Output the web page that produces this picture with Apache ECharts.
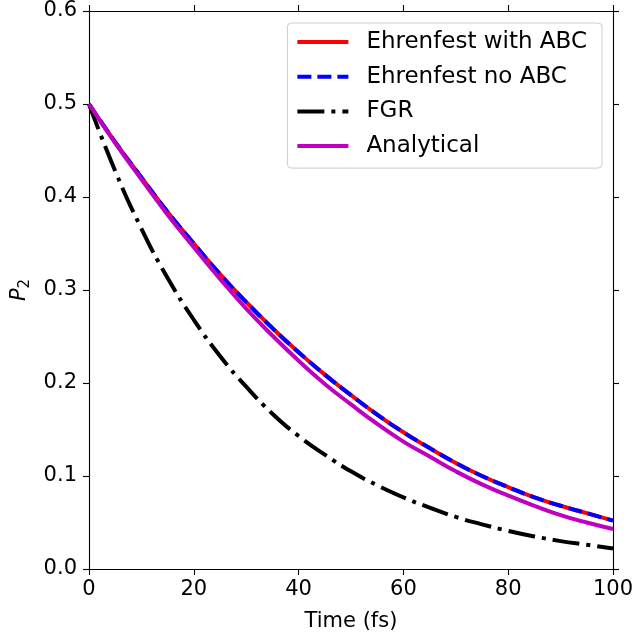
<!DOCTYPE html>
<html>
<head>
<meta charset="utf-8">
<script src="https://cdn.jsdelivr.net/npm/echarts@6/dist/echarts.min.js"></script>
<style>
html,body{margin:0;padding:0;background:#fff;}
#chart{width:636px;height:632px;}
</style>
</head>
<body>
<div id="chart"></div>
<script>
// Time (fs)
const times = [0,5,10,15,20,25,30,35,40,45,50,55,60,65,70,75,80,85,90,95,100];
const ehrenfestABC = [0.500,0.459,0.421,0.384,0.350,0.317,0.287,0.259,0.233,0.209,0.187,0.166,0.147,0.130,0.114,0.100,0.088,0.077,0.068,0.060,0.052];
const ehrenfestNoABC = [0.500,0.459,0.421,0.384,0.350,0.317,0.287,0.259,0.233,0.209,0.187,0.166,0.147,0.130,0.114,0.100,0.088,0.077,0.068,0.060,0.052];
const fgr = [0.500,0.428,0.366,0.313,0.268,0.229,0.196,0.167,0.143,0.123,0.105,0.090,0.077,0.066,0.056,0.048,0.041,0.035,0.030,0.026,0.022];
const analytical = [0.500,0.458,0.419,0.381,0.346,0.312,0.280,0.251,0.224,0.199,0.177,0.156,0.137,0.121,0.105,0.091,0.079,0.068,0.058,0.050,0.043];
const seriesNames = ['Ehrenfest with ABC','Ehrenfest no ABC','FGR','Analytical'];
const xTicks = [0,20,40,60,80,100];
const yTicks = [0.0,0.1,0.2,0.3,0.4,0.5,0.6];

const FONT = 'DejaVu Sans';
const pairs = arr => times.map((t,i)=>[t,arr[i]]);

const chart = echarts.init(document.getElementById('chart'), null, {renderer:'canvas'});
const axisLine = {show:true, onZero:false, lineStyle:{color:'#000', width:1.1}};
const tick = {show:true, inside:false, length:6, lineStyle:{color:'#000', width:1.1}};
const lbl = {color:'#000', fontFamily:FONT, fontSize:21};

const option = {
  backgroundColor:'#fff',
  animation:false,
  grid:{left:89, right:23, top:11, bottom:63, containLabel:false, outerBoundsMode:'none'},
  legend:{
    orient:'vertical',
    right:34, top:23,
    padding:[6,15,9,8],
    itemWidth:51, itemHeight:14, itemGap:8.7,
    backgroundColor:'rgba(255,255,255,0.8)',
    borderColor:'#cccccc', borderWidth:1, borderRadius:4,
    itemStyle:{opacity:0},
    lineStyle:{width:4},
    textStyle:{color:'#000', fontFamily:FONT, fontSize:23, lineHeight:26, padding:[0,0,0,13]},
    data:seriesNames
  },
  xAxis:[
    {type:'value', min:0, max:100, interval:20, position:'bottom',
     name:'Time (fs)', nameLocation:'middle', nameGap:42,
     nameTextStyle:{color:'#000', fontFamily:FONT, fontSize:21},
     axisLine:axisLine, axisTick:tick, splitLine:{show:false},
     axisLabel:Object.assign({margin:10, formatter:v=>String(v)}, lbl)},
    {type:'value', min:0, max:100, interval:20, position:'top',
     axisLine:axisLine, axisTick:tick, splitLine:{show:false}, axisLabel:{show:false}}
  ],
  yAxis:[
    {type:'value', min:0, max:0.6, interval:0.1, position:'left',
     name:'{p|P}{s|2}', nameLocation:'middle', nameGap:40, nameRotate:90,
     nameTextStyle:{color:'#000', fontFamily:FONT, fontSize:21,
       rich:{p:{fontStyle:'italic', fontFamily:FONT, fontSize:21, color:'#000', lineHeight:24, verticalAlign:'top'},
             s:{fontFamily:FONT, fontSize:15, color:'#000', lineHeight:24, verticalAlign:'bottom'}}},
     axisLine:axisLine, axisTick:tick, splitLine:{show:false},
     axisLabel:Object.assign({margin:12, formatter:v=>v.toFixed(1)}, lbl)},
    {type:'value', min:0, max:0.6, interval:0.1, position:'right',
     axisLine:axisLine, axisTick:tick, splitLine:{show:false}, axisLabel:{show:false}}
  ],
  series:[
    {name:seriesNames[0], type:'line', data:pairs(ehrenfestABC), showSymbol:false, symbol:'none', smooth:0.5,
     lineStyle:{color:'#ff0000', width:4}, itemStyle:{color:'#ff0000'}, z:2},
    {name:seriesNames[1], type:'line', data:pairs(ehrenfestNoABC), showSymbol:false, symbol:'none', smooth:0.5,
     lineStyle:{color:'#0000ff', width:4, type:[14,6]}, itemStyle:{color:'#0000ff'}, z:3},
    {name:seriesNames[2], type:'line', data:pairs(fgr), showSymbol:false, symbol:'none', smooth:0.5,
     lineStyle:{color:'#000000', width:4, type:[27,7,4,7]}, itemStyle:{color:'#000000'}, z:4},
    {name:seriesNames[3], type:'line', data:pairs(analytical), showSymbol:false, symbol:'none', smooth:0.5,
     lineStyle:{color:'#bf00bf', width:4}, itemStyle:{color:'#bf00bf'}, z:5}
  ]
};
chart.setOption(option);
</script>
</body>
</html>
